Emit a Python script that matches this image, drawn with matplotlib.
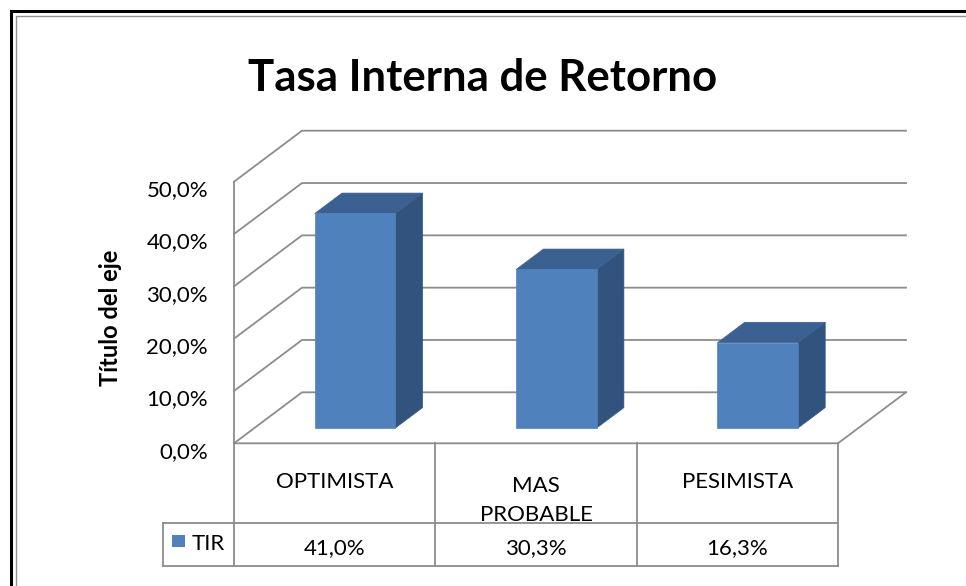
import matplotlib.pyplot as plt
import matplotlib.patches as mpatches
from matplotlib.transforms import blended_transform_factory

categories = ['OPTIMISTA', 'MAS\nPROBABLE', 'PESIMISTA']
tir = [41.0, 30.3, 16.3]
series_name = 'TIR'
y_ticks = [0, 10, 20, 30, 40, 50]

W, H = 966, 586
plt.rcParams['font.family'] = ['Lato', 'DejaVu Sans']
fig = plt.figure(figsize=(W / 100, H / 100), dpi=100)

# front plane of the 3D box, in pixels
x_left, x_right = 234, 838
y_zero, y_top = 443.3, 181.7
ax = fig.add_axes([x_left / W, 1 - y_zero / H,
                   (x_right - x_left) / W, (y_zero - y_top) / H])
ax.set_xlim(0, len(categories))
ax.set_ylim(0, 50)
ax.axis('off')

# depth offset of the back wall, in data units
DX = 68 / ((x_right - x_left) / len(categories))
DY = 51 / ((y_zero - y_top) / 50)


def proj(x, y, d):
    return x + d * DX, y + d * DY


grid_c = '#8c8c8c'
glw = 1.3
n = len(categories)

# walls and floor
ax.plot([0, 0], [0, 50], color=grid_c, lw=glw, clip_on=False)
for t in y_ticks:
    p0 = proj(0, t, 0)
    p1 = proj(0, t, 1)
    p2 = proj(n, t, 1)
    ax.plot([p0[0], p1[0], p2[0]], [p0[1], p1[1], p2[1]],
            color=grid_c, lw=glw, clip_on=False)
f0 = proj(n, 0, 0)
f1 = proj(n, 0, 1)
ax.plot([0, f0[0], f1[0]], [0, f0[1], f1[1]], color=grid_c, lw=glw, clip_on=False)

# bars
front_c, top_c, side_c = '#4f81bd', '#3a6191', '#31537e'
w0, w1 = 0.3, 0.7
d0, d1 = 0.3, 0.7
for i, v in enumerate(tir):
    xa, xb = i + w0, i + w1
    front = [proj(xa, 0, d0), proj(xb, 0, d0), proj(xb, v, d0), proj(xa, v, d0)]
    top = [proj(xa, v, d0), proj(xb, v, d0), proj(xb, v, d1), proj(xa, v, d1)]
    side = [proj(xb, 0, d0), proj(xb, 0, d1), proj(xb, v, d1), proj(xb, v, d0)]
    for pts, c in [(side, side_c), (top, top_c), (front, front_c)]:
        ax.add_patch(mpatches.Polygon(pts, closed=True, facecolor=c,
                                      edgecolor=c, lw=0.5, zorder=3, clip_on=False))

# value axis labels
for t in y_ticks:
    ax.annotate(f'{t:.1f}%'.replace('.', ','), xy=(0, t), xytext=(-26, -14.5),
                textcoords='offset pixels', ha='right', va='baseline',
                fontsize=16, color='black', annotation_clip=False)

ax.annotate('Título del eje', xy=(0, 25), xytext=(-124, -5.5),
            textcoords='offset pixels', rotation=90, ha='center', va='center',
            fontsize=17, fontweight='bold', annotation_clip=False)

# title
fig.text(0.5, 1 - 91 / H, 'Tasa Interna de Retorno', ha='center', va='baseline',
         fontsize=31.5, fontweight='bold')

# data table
tr = blended_transform_factory(ax.transData, fig.transFigure)
tab_c = '#8c8c8c'
row1, row2 = 522.7, 566.0
leg_x = -(x_left - 162.7) / ((x_right - x_left) / n)


def fy(py):
    return 1 - py / H


for k in range(n + 1):
    ax.plot([k, k], [fy(y_zero), fy(row2)], color=tab_c, lw=1.3,
            transform=tr, clip_on=False)
for py in (row1, row2):
    ax.plot([leg_x, n], [fy(py), fy(py)], color=tab_c, lw=1.3,
            transform=tr, clip_on=False)
ax.plot([leg_x, leg_x], [fy(row1), fy(row2)], color=tab_c, lw=1.3,
        transform=tr, clip_on=False)

for i, lab in enumerate(categories):
    lines = lab.split('\n')
    base = 488.3 if len(lines) == 1 else 492.0
    for j, ln in enumerate(lines):
        ax.text(i + 0.5, fy(base + j * 28.7), ln, transform=tr, ha='center',
                va='baseline', fontsize=16, clip_on=False)
    ax.text(i + 0.5, fy(554.3), f'{tir[i]:.1f}%'.replace('.', ','), transform=tr,
            ha='center', va='baseline', fontsize=16, clip_on=False)

# legend key inside the table
fig.add_artist(mpatches.Rectangle((172.3 / W, fy(547.3)), 12.5 / W, 12.3 / H,
                                  transform=fig.transFigure, facecolor=front_c,
                                  edgecolor='none'))
fig.text(192.0 / W, fy(550.5), series_name, ha='left', va='baseline', fontsize=16)

# chart frame
fig.add_artist(mpatches.Rectangle((11.3 / W, -0.1), 1.2, fy(11.3) + 0.1,
                                  transform=fig.transFigure, fill=False,
                                  edgecolor='black', lw=2.2))
fig.add_artist(mpatches.Rectangle((15.5 / W, -0.1), 1.2, fy(15.5) + 0.1,
                                  transform=fig.transFigure, fill=False,
                                  edgecolor='#909090', lw=1.0))

fig.savefig('out.png', dpi=100)
